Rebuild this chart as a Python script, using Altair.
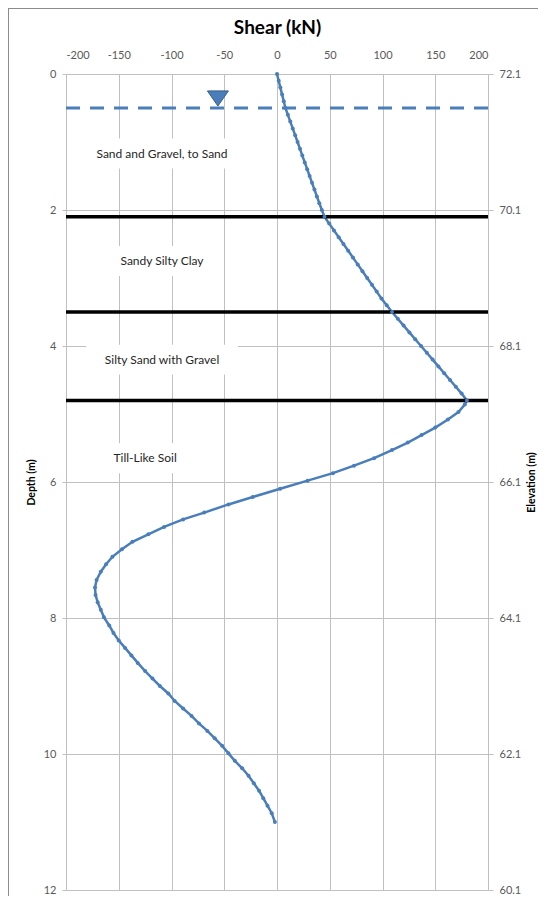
import altair as alt
import pandas as pd

# ---- data ----
depth = [0.0, 0.1, 0.2, 0.3, 0.4, 0.5, 0.6, 0.7, 0.8, 0.9, 1.0, 1.1, 1.2, 1.3, 1.4, 1.5, 1.6, 1.7, 1.8, 1.9, 2.0, 2.1,
         2.2, 2.3, 2.4, 2.5, 2.6, 2.7, 2.8, 2.9, 3.0, 3.1, 3.2, 3.3, 3.4, 3.5,
         3.6, 3.7, 3.8, 3.9, 4.0, 4.1, 4.2, 4.3, 4.4, 4.5, 4.6, 4.7, 4.8,
         4.86, 4.97, 5.08, 5.2, 5.31, 5.42, 5.53, 5.65, 5.76, 5.87, 5.98, 6.1, 6.22, 6.33, 6.45, 6.55, 6.66,
         6.77, 6.88, 6.99, 7.1, 7.21, 7.32, 7.44, 7.55, 7.66, 7.77, 7.88, 7.99, 8.11, 8.22, 8.33, 8.44, 8.55,
         8.66, 8.78, 8.89, 9.0, 9.11, 9.22, 9.33, 9.44, 9.55, 9.66, 9.77, 9.88, 9.99, 10.1, 10.21, 10.32,
         10.43, 10.54, 10.65, 10.76, 10.87, 11.0]
shear = [0, 1.6, 3.2, 4.8, 6.4, 8, 10.3, 12.6, 14.9, 17.2, 19.5, 21.8, 24, 26.3, 28.6, 30.9, 33.2, 35.5, 37.8, 40.1, 42.5, 45,
         49.5, 54, 58.5, 63, 67.5, 72, 76.5, 81, 85.5, 90, 94.5, 99, 104, 109,
         114.5, 120, 125.5, 131, 136.5, 142, 147.5, 153, 158.5, 164, 169.5, 175, 180,
         178, 172, 162, 150, 137, 124, 109, 92, 73, 53, 29, 3, -23, -46, -69, -89, -107,
         -122, -137, -147, -156, -162, -167, -171, -172.5, -172, -170, -167, -164, -159, -155, -150, -144, -138,
         -132, -125, -118, -111, -103, -97, -89, -81, -74, -66, -59, -52, -46, -40, -33, -27,
         -22, -17, -13, -9, -5, -2]

layer_boundaries = [2.1, 3.5, 4.8]
water_table_depth = [0.5]
water_marker_shear = [-56]
water_marker_depth = [0.36]

soil_labels = ["Sand and Gravel, to Sand", "Sandy Silty Clay", "Silty Sand with Gravel", "Till-Like Soil"]
soil_label_shear = [-109, -109, -109, -125]
soil_label_depth = [1.17, 2.75, 4.2, 5.65]

shear_ticks = [-200, -150, -100, -50, 0, 50, 100, 150, 200]
depth_ticks = [0, 2, 4, 6, 8, 10, 12]
ground_elevation = 72.1

# ---- tables ----
curve = pd.DataFrame({"depth": depth, "shear": shear})
bounds = pd.DataFrame({"depth": layer_boundaries, "x1": [-200] * 3, "x2": [200] * 3})
water = pd.DataFrame({"depth": water_table_depth, "x1": [-200], "x2": [200]})
marker = pd.DataFrame({"shear": water_marker_shear, "depth": water_marker_depth})
labels = pd.DataFrame({"label": soil_labels, "shear": soil_label_shear, "depth": soil_label_depth})

FONT = "Lato"
BLUE = "#4a7ebb"
GRID = "#c0c0c0"
xscale = alt.Scale(domain=[-200, 200], nice=False, zero=False)
yscale = alt.Scale(domain=[0, 12], reverse=True, nice=False, zero=False)

x_axis = alt.Axis(orient="top", values=shear_ticks, title="Shear (kN)", grid=True, gridColor=GRID,
                  labelExpr="'' + datum.value",
                  ticks=False, domain=False, labelFont=FONT, labelFontSize=11, labelColor="#595959",
                  labelPadding=14, titleFont=FONT, titleFontSize=19, titleFontWeight="bold",
                  titleColor="#000000", titlePadding=12)
y_left = alt.Axis(orient="left", values=depth_ticks, title="Depth (m)", grid=True, gridColor=GRID,
                  ticks=True, tickSize=4, tickColor=GRID, domain=False, labelFont=FONT, labelFontSize=11,
                  labelColor="#595959", labelPadding=6, titleFont=FONT, titleFontSize=10.5,
                  titleFontWeight="bold", titleColor="#000000", titlePadding=7)
y_right = alt.Axis(orient="right", values=depth_ticks, title="Elevation (m)", grid=False,
                   labelExpr=f"format({ground_elevation} - datum.value, '.1f')",
                   ticks=True, tickSize=5, tickColor=GRID, domain=False, labelFont=FONT, labelFontSize=11,
                   labelColor="#595959", labelPadding=6, titleFont=FONT, titleFontSize=10.5,
                   titleFontWeight="bold", titleColor="#000000", titlePadding=16, titleAngle=270)


def X(field):
    return alt.X(field, scale=xscale, axis=x_axis)


def Y(field, axis=None):
    return alt.Y(field, scale=yscale, axis=axis)


curve_line = alt.Chart(curve).mark_line(color=BLUE, strokeWidth=2.5).encode(
    x=X("shear:Q"), y=Y("depth:Q", y_left), order="depth:Q",
)

# white boxes behind labels
boxes = alt.Chart(labels).transform_calculate(
    bx1="datum.shear - (length(datum.label) * 2.9 + 8)",
    bx2="datum.shear + (length(datum.label) * 2.9 + 8)",
    by1="datum.depth - 0.22",
    by2="datum.depth + 0.22",
).mark_rect(color="white").encode(
    x=X("bx1:Q"), x2="bx2:Q", y=Y("by1:Q"), y2="by2:Q",
)

texts = alt.Chart(labels).mark_text(font=FONT, fontSize=12, color="#262626", align="center",
                                    baseline="middle").encode(
    x=X("shear:Q"), y=Y("depth:Q"), text="label:N",
)

bound_lines = alt.Chart(bounds).mark_rule(color="#000000", strokeWidth=3.5).encode(
    x=X("x1:Q"), x2="x2:Q", y=Y("depth:Q"),
)

water_line = alt.Chart(water).mark_rule(color=BLUE, strokeWidth=3, strokeDash=[14, 10]).encode(
    x=X("x1:Q"), x2="x2:Q", y=Y("depth:Q"),
)

water_marker = alt.Chart(marker).mark_point(
    shape="M-1,-0.72L1,-0.72L0,0.72Z", filled=True, fill=BLUE, stroke="#385d8a", strokeWidth=1,
    opacity=1, size=441,
).encode(x=X("shear:Q"), y=Y("depth:Q"))

curve_pts = alt.Chart(curve).mark_circle(color=BLUE, size=16, opacity=1).encode(
    x=X("shear:Q"), y=Y("depth:Q"),
)

right_axis = alt.Chart(curve).mark_point(opacity=0).encode(
    x=X("shear:Q"), y=Y("depth:Q", y_right),
)

frame_df = pd.DataFrame({"k": [0]})
frame_left = alt.Chart(frame_df).mark_rule(color="#8c8c8c", strokeWidth=1).encode(
    x=alt.value(-57.5), y=alt.value(-66), y2=alt.value(840),
)
frame_top = alt.Chart(frame_df).mark_rule(color="#8c8c8c", strokeWidth=1).encode(
    x=alt.value(-58), x2=alt.value(472), y=alt.value(-65.5),
)

chart = alt.layer(
    curve_line, boxes, texts, bound_lines, water_line, water_marker, curve_pts, right_axis,
    frame_left, frame_top,
).resolve_axis(y="independent").properties(
    width=422, height=816,
    autosize=alt.AutoSizeParams(type="none"),
    padding={"left": 58, "top": 66, "right": 50, "bottom": 6},
    background="white",
).configure_view(stroke=None)

chart.save("out.html", embed_options={"renderer": "svg", "actions": False})
